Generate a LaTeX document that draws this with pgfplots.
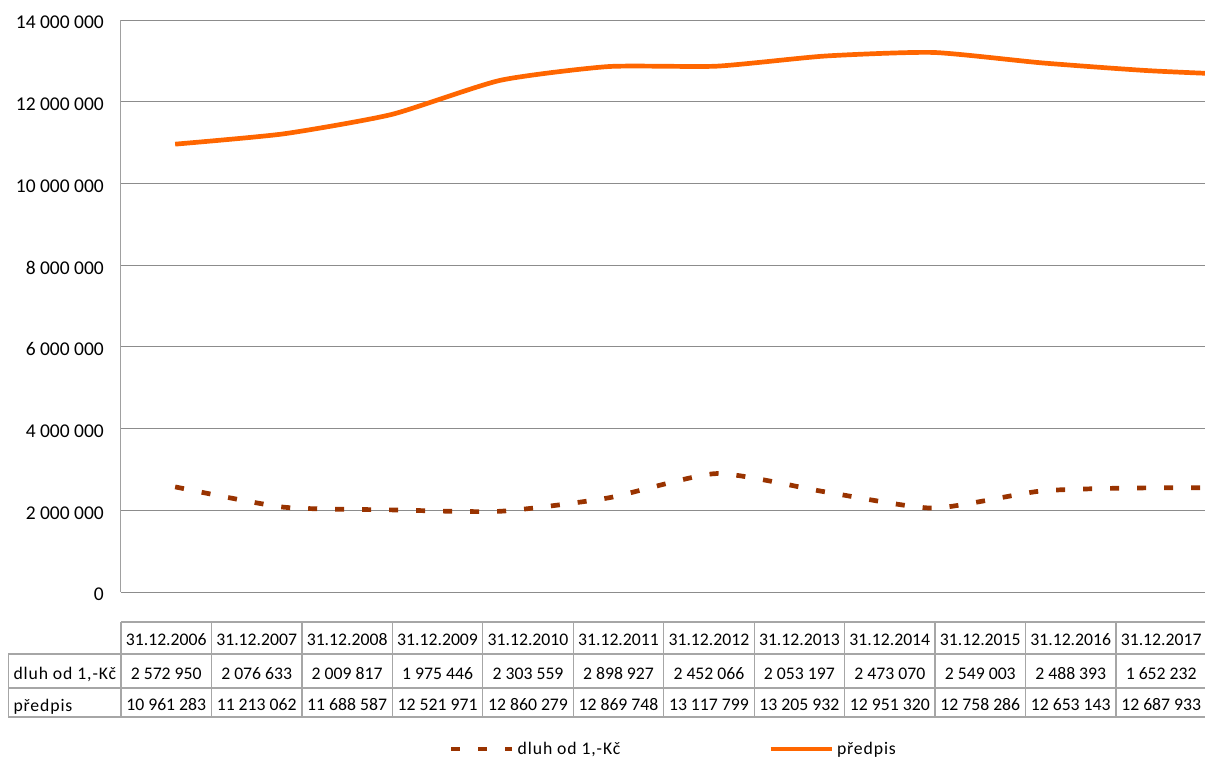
\documentclass[border=0pt]{standalone}
\usepackage{pgfplots}
\usepackage{pgfplotstable}
\pgfplotsset{compat=1.18}
\usepackage{fontspec}
\setmainfont{Carlito}
\newfontfamily\lblfont[LetterSpace=5]{Carlito}
\definecolor{predpisc}{HTML}{FF6600}
\definecolor{dluhc}{HTML}{993300}
\definecolor{gridc}{HTML}{8C8C8C}
\definecolor{axisc}{HTML}{A0A0A0}
\definecolor{tabc}{HTML}{A6A6A6}

\pgfplotstableread{
i dluh predpis
0 2572950 10961283
1 2076633 11213062
2 2009817 11688587
3 1975446 12521971
4 2303559 12860279
5 2898927 12869748
6 2452066 13117799
7 2053197 13205932
8 2473070 12951320
9 2549003 12758286
10 2488393 12653143
11 1652232 12687933
}\data

\begin{document}
\begin{tikzpicture}
\useasboundingbox (0pt,0pt) rectangle (1205pt,-760pt);
\clip (0pt,0pt) rectangle (1205pt,-760pt);
\begin{axis}[
  at={(121pt,-592pt)}, anchor=south west,
  scale only axis, width=1084pt, height=572pt,
  xmin=-0.5, xmax=9.5106, ymin=0, ymax=14000000,
  axis x line=none, axis y line=left,
  axis line style={-, draw=axisc, line width=1pt},
  xtick=\empty,
  ytick={0,2000000,4000000,6000000,8000000,10000000,12000000,14000000},
  yticklabels={0,2 000 000,4 000 000,6 000 000,8 000 000,10 000 000,12 000 000,14 000 000},
  scaled y ticks=false,
  ymajorgrids, grid style={draw=gridc, line width=1pt},
  major tick length=0pt,
  yticklabel style={font=\fontsize{19.5pt}{22pt}\selectfont, inner sep=0pt, xshift=-17pt, yshift=-2.5pt, anchor=east},
  legend columns=2,
  legend cell align=left,
  legend style={at={(rel axis cs:0.3026,-0.2745)}, anchor=west, draw=none, fill=none,
    inner sep=0pt, outer sep=0pt,
    font=\lblfont\fontsize{17.7pt}{20pt}\selectfont,
    nodes={inner sep=0pt},
    /tikz/every odd column/.append style={column sep=3pt},
    /tikz/every even column/.append style={column sep=148pt}},
  legend image code/.code={\draw[#1, line cap=butt] (0pt,0pt) -- (61pt,0pt);},
]
\addplot[draw=dluhc, line width=4.7pt, line cap=butt, dash pattern=on 9pt off 18pt, smooth, tension=0.35, no markers]
  table[x=i, y=dluh] {\data};
\addlegendentry{dluh od 1,-Kč}
\addplot[draw=predpisc, line width=4.7pt, smooth, tension=0.35, no markers]
  table[x=i, y=predpis] {\data};
\addlegendentry{předpis}
\end{axis}

\begin{scope}[x=1pt, y=-1pt]
\begin{scope}[draw=tabc, line width=1.3pt]
\draw (121,622) -- (1207,622);
\draw (8.3,654) -- (1207,654);
\draw (8.3,688) -- (1207,688);
\draw (8.3,717) -- (1207,717);
\draw (8.3,654) -- (8.3,717);
\foreach \k in {0,...,12} {\draw ({121+90.45*\k},622) -- ({121+90.45*\k},717);}
\end{scope}
\begin{scope}[every node/.style={inner sep=0pt, anchor=base, font=\fontsize{17.7pt}{20pt}\selectfont}]
\foreach \d [count=\k from 0] in {2006,...,2017}
  {\node at ({121+90.45*(\k+0.5)},645.3) {31.12.\d};}
\foreach \v [count=\k from 0] in {2 572 950,2 076 633,2 009 817,1 975 446,2 303 559,2 898 927,2 452 066,2 053 197,2 473 070,2 549 003,2 488 393,1 652 232}
  {\node at ({121+90.45*(\k+0.5)},679) {\v};}
\foreach \v [count=\k from 0] in {10 961 283,11 213 062,11 688 587,12 521 971,12 860 279,12 869 748,13 117 799,13 205 932,12 951 320,12 758 286,12 653 143,12 687 933}
  {\node at ({121+90.45*(\k+0.5)},710.7) {\v};}
\node[anchor=base west, font=\lblfont\fontsize{17.7pt}{20pt}\selectfont] at (13.3,679) {dluh od 1,-Kč};
\node[anchor=base west, font=\lblfont\fontsize{17.7pt}{20pt}\selectfont] at (13.3,711) {předpis};
\end{scope}
\end{scope}
\end{tikzpicture}
\end{document}
